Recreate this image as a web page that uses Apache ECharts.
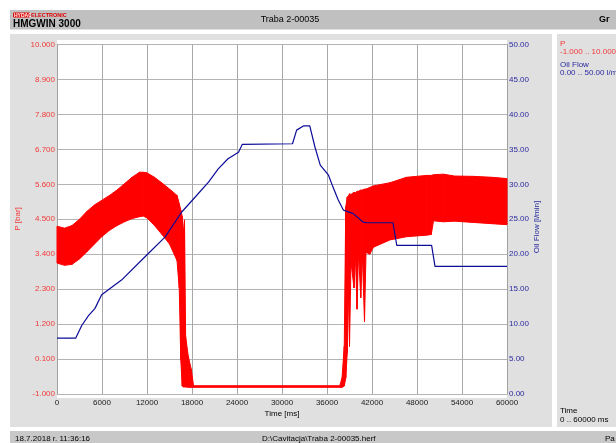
<!DOCTYPE html>
<html><head><meta charset="utf-8">
<script src="https://cdn.jsdelivr.net/npm/echarts@6/dist/echarts.min.js"></script>
<style>html,body{margin:0;padding:0;background:#fff}#c{width:616px;height:443px}</style>
</head><body><div id="c"></div>
<script>
// ---- Pressure P [bar]: envelope (low / high) of the oscillating signal ----
const pTime = [0, 1000, 2000, 3000, 4000, 5000, 6000, 7000, 8000, 9000, 10000, 11000, 11500, 12000, 13000, 14000, 15000, 16000,
  16300, 16500, 16700, 16850, 17000, 17150, 17500, 17900, 18200, 37700, 38000, 38300, 38500, 38700, 38900, 39000, 39200,
  39600, 39800, 40000, 40200, 40500, 40700, 41000, 41200, 41700, 42200, 44400, 46600, 49300, 49900, 50200, 51500, 53000,
  55500, 58000, 60000];
const pLow = [3.12, 3.05, 3.08, 3.25, 3.48, 3.72, 3.96, 4.15, 4.30, 4.42, 4.52, 4.58, 4.60, 4.54, 4.30, 4.02, 3.72, 3.20,
  2.34, 0.09, -0.75, -0.78, -0.78, -0.78, -0.79, -0.79, -0.79, -0.79, -0.79, -0.75, -0.50, 0.30, 2.34, 0.50, 3.15,
  2.34, 3.36, 1.67, 3.46, 2.03, 3.46, 1.27, 3.46, 3.40, 3.62, 3.85, 3.95, 4.00, 4.02, 4.45, 4.42, 4.44,
  4.40, 4.36, 4.33];
const pHigh = [4.28, 4.22, 4.30, 4.50, 4.75, 4.95, 5.10, 5.25, 5.42, 5.62, 5.82, 5.98, 5.98, 5.96, 5.82, 5.64, 5.45, 5.25,
  4.99, 4.79, 4.59, 4.08, 4.48, 0.81, 0.19, -0.22, -0.74, -0.74, -0.50, 0.50, 4.89, 5.20, 5.25, 5.30, 5.28,
  5.35, 5.33, 5.38, 5.38, 5.42, 5.42, 5.45, 5.45, 5.50, 5.55, 5.65, 5.82, 5.88, 5.88, 5.90, 5.92, 5.86,
  5.85, 5.82, 5.78];

// ---- Oil Flow [l/min] ----
const flowTime = [0, 2500, 3300, 4200, 5070, 5950, 8600, 11700, 14400, 16600, 18400, 20200, 21500, 22800, 24200, 24700,
  31400, 31950, 32850, 33700, 34400, 35100, 36200, 36800, 37500, 38200, 39500, 40800, 41300, 44800, 45300, 49950, 50400, 60000];
const flowValues = [8.0, 8.0, 9.8, 11.2, 12.25, 14.2, 16.3, 19.6, 22.45, 26.0, 28.15, 30.3, 32.2, 33.65, 34.6, 35.7,
  35.8, 37.75, 38.35, 38.35, 35.3, 32.75, 31.3, 29.6, 27.75, 26.3, 25.8, 24.6, 24.5, 24.5, 21.25, 21.25, 18.25, 18.25];

const FONT = 'Liberation Sans, Arial, sans-serif';
const RED = '#f23838';
const NAVY = '#2a2aa0';

const chart = echarts.init(document.getElementById('c'), null, {renderer: 'canvas'});

function txt(x, y, s, opt) {
  return Object.assign({type: 'text', x: x, y: y, z: 50, silent: true,
    style: Object.assign({text: s, fill: '#000', font: '8px ' + FONT, textVerticalAlign: 'middle'}, opt || {})});
}
function rect(x, y, w, h, fill) {
  return {type: 'rect', shape: {x: x, y: y, width: w, height: h}, style: {fill: fill}, z: -100, silent: true};
}

const option = {
  backgroundColor: '#ffffff',
  animation: false,
  grid: {left: 57, right: 109, top: 44.5, bottom: 49},
  xAxis: {
    type: 'value', min: 0, max: 60000, interval: 6000,
    axisLine: {show: false}, axisTick: {show: false},
    axisLabel: {color: '#202020', fontSize: 8, fontFamily: FONT, margin: 5, formatter: v => String(v)},
    splitLine: {show: true, lineStyle: {color: '#a8a8a8', width: 1}}
  },
  yAxis: [
    {
      type: 'value', position: 'left', min: -1, max: 10, interval: 1.1,
      axisLine: {show: true, lineStyle: {color: '#a0a0a0'}}, axisTick: {show: false},
      axisLabel: {color: RED, fontSize: 8, fontFamily: FONT, margin: 2, formatter: v => v.toFixed(3)},
      splitLine: {show: true, lineStyle: {color: '#b4b4b4', width: 1}}
    },
    {
      type: 'value', position: 'right', min: 0, max: 50, interval: 5,
      axisLine: {show: true, lineStyle: {color: '#a0a0a0'}}, axisTick: {show: false},
      axisLabel: {color: NAVY, fontSize: 8, fontFamily: FONT, margin: 2, formatter: v => v.toFixed(2)},
      splitLine: {show: false}
    }
  ],
  series: [
    {
      type: 'custom', xAxisIndex: 0, yAxisIndex: 0, silent: true, z: 3,
      data: pTime.map((t, i) => [t, pLow[i], pHigh[i]]),
      encode: {x: 0, y: [1, 2]},
      renderItem: function (params, api) {
        const i = params.dataIndex;
        if (i >= pTime.length - 1) return {type: 'group', children: []};
        const pts = [
          api.coord([pTime[i], pHigh[i]]),
          api.coord([pTime[i + 1], pHigh[i + 1]]),
          api.coord([pTime[i + 1], pLow[i + 1]]),
          api.coord([pTime[i], pLow[i]])
        ];
        return {type: 'polygon', shape: {points: pts}, style: {fill: '#ff0000', stroke: '#ff0000', lineWidth: 1}};
      }
    },
    {
      type: 'line', xAxisIndex: 0, yAxisIndex: 1, z: 5,
      data: flowTime.map((t, i) => [t, flowValues[i]]),
      symbol: 'none', showSymbol: false,
      lineStyle: {color: '#0c0c98', width: 1.2}
    }
  ],
  graphic: {elements: [
    rect(10, 10, 606, 19.5, '#c0c0c0'),
    rect(10, 34, 542, 393, '#e0e0e0'),
    rect(557, 34, 59, 393, '#e0e0e0'),
    rect(10, 431, 606, 12, '#c8c8c8'),
    {type: 'rect', shape: {x: 57, y: 40, width: 450, height: 358}, style: {fill: '#ffffff'}, z: -90, silent: true},
    // header
    {type: 'rect', shape: {x: 13, y: 12.5, width: 17, height: 5, r: 1}, style: {fill: '#e00000'}, z: 50, silent: true},
    txt(14, 15.2, 'HYDAC', {fill: '#ffffff', font: 'bold 5px ' + FONT}),
    txt(31, 15.2, 'ELECTRONIC', {fill: '#e00000', font: 'bold 5.5px ' + FONT}),
    txt(13, 24, 'HMGWIN 3000', {font: 'bold 10px ' + FONT}),
    txt(290, 20, 'Traba 2-00035', {font: '9px ' + FONT, textAlign: 'center'}),
    txt(599, 20, 'Gr', {font: 'bold 9px ' + FONT}),
    // axis names
    Object.assign(txt(18, 219, 'P [bar]', {fill: RED, textAlign: 'center'}), {rotation: Math.PI / 2}),
    Object.assign(txt(537, 227, 'Oil Flow [l/min]', {fill: NAVY, textAlign: 'center'}), {rotation: Math.PI / 2}),
    txt(282, 414, 'Time [ms]', {textAlign: 'center'}),
    // side legend
    txt(560, 44, 'P', {fill: RED}),
    txt(560, 52, '-1.000 .. 10.000', {fill: RED}),
    txt(560, 65, 'Oil Flow', {fill: NAVY}),
    txt(560, 73, '0.00 .. 50.00 l/min', {fill: NAVY}),
    txt(560, 411, 'Time'),
    txt(560, 420, '0 .. 60000 ms'),
    // status bar
    txt(15, 439, '18.7.2018 r. 11:36:16'),
    txt(262, 439, 'D:\\Cavitacja\\Traba 2-00035.herf'),
    txt(605, 439, 'Pa')
  ]}
};
chart.setOption(option);
</script></body></html>
